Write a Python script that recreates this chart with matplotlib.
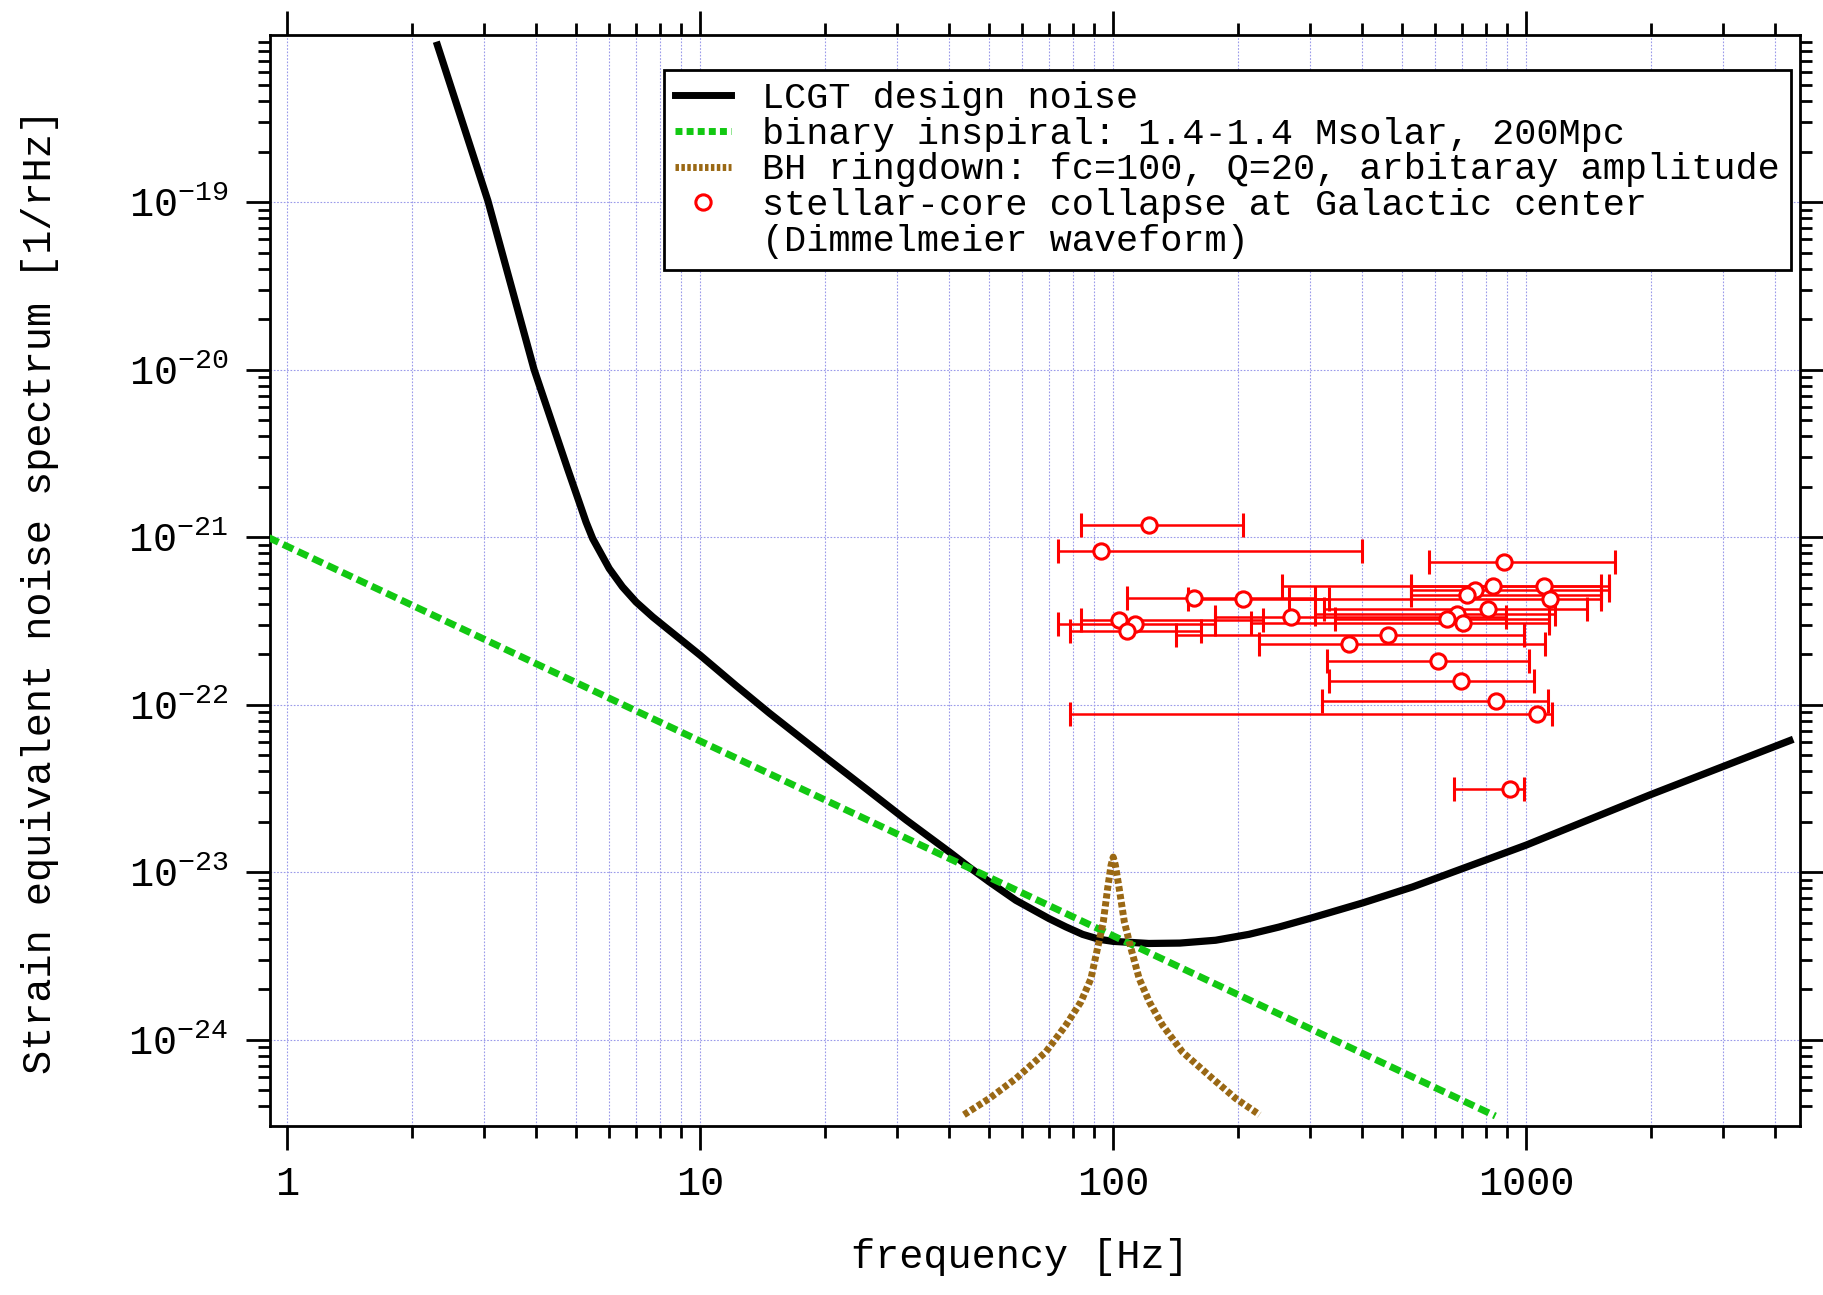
import numpy as np
import matplotlib
matplotlib.use('Agg')
import matplotlib.pyplot as plt
from matplotlib.lines import Line2D
from matplotlib.ticker import (FixedLocator, LogFormatterMathtext, NullFormatter,
                               FuncFormatter)

plt.rcParams['font.family'] = ['Liberation Mono', 'DejaVu Sans Mono']
plt.rcParams['mathtext.default'] = 'regular'

# LCGT design noise
noise_f = [2.31, 3.06, 3.96, 4.77, 5.09, 5.29, 5.49, 6.02, 6.48, 6.99, 7.67, 8.41,
           10.0, 12.2, 14.7, 20.1, 23.0, 31.5, 40.1, 44.8, 50.1, 58.1, 70.0, 76.8,
           84.3, 92.5, 100, 122, 145, 177, 213, 252, 304, 402, 531, 701, 1000,
           2000, 4350]
noise_h = [8.65e-19, 1.02e-19, 1.0e-20, 2.57e-21, 1.62e-21, 1.23e-21, 9.8e-22,
           6.49e-22, 5.05e-22, 4.1e-22, 3.34e-22, 2.78e-22, 1.97e-22, 1.3e-22,
           8.9e-23, 4.85e-23, 3.75e-23, 2.05e-23, 1.32e-23, 1.07e-23, 8.75e-24,
           6.79e-24, 5.27e-24, 4.71e-24, 4.25e-24, 3.97e-24, 3.86e-24, 3.75e-24,
           3.77e-24, 3.92e-24, 4.25e-24, 4.7e-24, 5.35e-24, 6.55e-24, 8.16e-24,
           1.05e-23, 1.45e-23, 2.9e-23, 6.1e-23]

# binary inspiral, straight line on log-log
insp_f = [0.9, 842]
insp_h = [9.95e-22, 3.5e-25]

# BH ringdown
ring_f = [43.5, 50.1, 58.1, 68.7, 76.8, 83.5, 88.3, 91.6, 94.6, 96.9, 98.8, 100,
          101.2, 103.4, 106.4, 110.4, 115.6, 122.3, 131.6, 147, 174, 198, 226]
ring_h = [3.56e-25, 4.45e-25, 5.85e-25, 8.45e-25, 1.22e-24, 1.68e-24, 2.31e-24,
          3.5e-24, 5.04e-24, 7.96e-24, 1.1e-23, 1.23e-23, 1.1e-23, 7.96e-24,
          5.04e-24, 3.5e-24, 2.31e-24, 1.68e-24, 1.22e-24, 8.45e-25, 5.85e-25,
          4.45e-25, 3.56e-25]

# stellar-core collapse (Dimmelmeier): centre, amplitude, band low / high
sc_f = [122, 93.3, 885, 832, 1102, 753, 718, 1140, 157, 206, 270, 806, 681, 643,
        702, 103.5, 113, 108, 463, 373, 612, 697, 844, 1061, 914]
sc_h = [1.18e-21, 8.28e-22, 7.1e-22, 5.12e-22, 5.1e-22, 4.86e-22, 4.5e-22, 4.26e-22,
        4.35e-22, 4.26e-22, 3.34e-22, 3.74e-22, 3.49e-22, 3.26e-22, 3.09e-22,
        3.18e-22, 3.01e-22, 2.74e-22, 2.62e-22, 2.3e-22, 1.82e-22, 1.38e-22,
        1.05e-22, 8.83e-23, 3.12e-23]
sc_lo = [83.5, 73.7, 582, 256, 527, 527, 527, 267, 108, 152, 176, 324, 308, 345,
         216, 83.5, 73.7, 78.5, 142, 226, 330, 333, 320, 78.5, 667]
sc_hi = [206, 400, 1640, 1590, 1517, 1590, 1517, 1520, 308, 333, 892, 1402, 1175,
         1138, 1138, 231, 176, 163, 988, 1112, 1013, 1042, 1127, 1154, 988]

x_major = [1, 10, 100, 1000]
y_major = [1e-24, 1e-23, 1e-22, 1e-21, 1e-20, 1e-19]

labels = ['LCGT design noise',
          'binary inspiral: 1.4-1.4 Msolar, 200Mpc',
          'BH ringdown: fc=100, Q=20, arbitaray amplitude',
          'stellar-core collapse at Galactic center',
          '(Dimmelmeier waveform)']

green = '#12c812'
brown = '#9a6814'

fig = plt.figure(figsize=(18.24, 12.95), dpi=100)
ax = fig.add_axes([0.148, 0.1305, 0.8388, 0.8425])
ax.set_xscale('log')
ax.set_yscale('log')

ax.plot(noise_f, noise_h, color='black', lw=5.2, solid_joinstyle='round', zorder=3)
ax.plot(insp_f, insp_h, color=green, lw=5, dashes=(1.6, 0.75), zorder=4)
ax.plot(ring_f, ring_h, color=brown, lw=5, dashes=(0.75, 0.4), zorder=5)

f = np.array(sc_f)
xerr = [f - np.array(sc_lo), np.array(sc_hi) - f]
ax.errorbar(sc_f, sc_h, xerr=xerr, fmt='o', color='red', ecolor='red', elinewidth=1.8,
            capsize=8.5, capthick=2.4, ms=11, mfc='white', mec='red', mew=2.2, zorder=6)

ax.set_xlim(0.908, 4600)
ax.set_ylim(3.05e-25, 9.95e-19)

x_minor = [m * d for d in [1, 10, 100, 1000] for m in range(2, 10) if m * d <= 4600]
y_minor = [m * 10.0 ** e for e in range(-25, -18) for m in range(2, 10)
           if 3.05e-25 <= m * 10.0 ** e <= 9.95e-19]
ax.xaxis.set_major_locator(FixedLocator(x_major))
ax.xaxis.set_minor_locator(FixedLocator(x_minor))
ax.xaxis.set_major_formatter(FuncFormatter(lambda v, p: '%d' % round(v)))
ax.xaxis.set_minor_formatter(NullFormatter())
ax.yaxis.set_major_locator(FixedLocator(y_major))
ax.yaxis.set_minor_locator(FixedLocator(y_minor))
ax.yaxis.set_major_formatter(LogFormatterMathtext())
ax.yaxis.set_minor_formatter(NullFormatter())

ax.tick_params(which='both', direction='out', top=True, right=True, width=2, colors='black')
ax.tick_params(which='major', length=17)
ax.tick_params(which='minor', length=8.5)
ax.tick_params(axis='x', which='major', labelsize=29, pad=11)
ax.tick_params(axis='y', which='major', labelsize=29, pad=13)
for s in ax.spines.values():
    s.set_linewidth(2)

ax.grid(True, which='major', axis='both', color='#9a9aea', lw=0.8, ls=(0, (1.5, 1.5)), zorder=0)
ax.grid(True, which='minor', axis='x', color='#9a9aea', lw=0.8, ls=(0, (1.5, 1.5)), zorder=0)
ax.set_axisbelow(True)

ax.set_xlabel('frequency [Hz]', fontsize=29)
ax.set_ylabel('Strain equivalent noise spectrum [1/rHz]', fontsize=29)
ax.xaxis.set_label_coords(0.49, -0.103)
ax.yaxis.set_label_coords(-0.138, 0.49)

handles = [Line2D([], [], color='black', lw=5),
           Line2D([], [], color=green, lw=5, dashes=(1.0, 0.6)),
           Line2D([], [], color=brown, lw=5, dashes=(0.5, 0.35)),
           Line2D([], [], ls='none', marker='o', ms=11, mfc='white', mec='red', mew=2.2),
           Line2D([], [], ls='none')]
leg = ax.legend(handles, labels, loc='upper right', bbox_to_anchor=(0.994, 0.968),
                borderaxespad=0, fontsize=26.6, handlelength=1.5, handletextpad=0.85,
                borderpad=0.3, labelspacing=0.02, fancybox=False, framealpha=1,
                edgecolor='black')
leg.get_frame().set_linewidth(2)
leg.set_zorder(10)

plt.savefig('out.png', dpi=100)
